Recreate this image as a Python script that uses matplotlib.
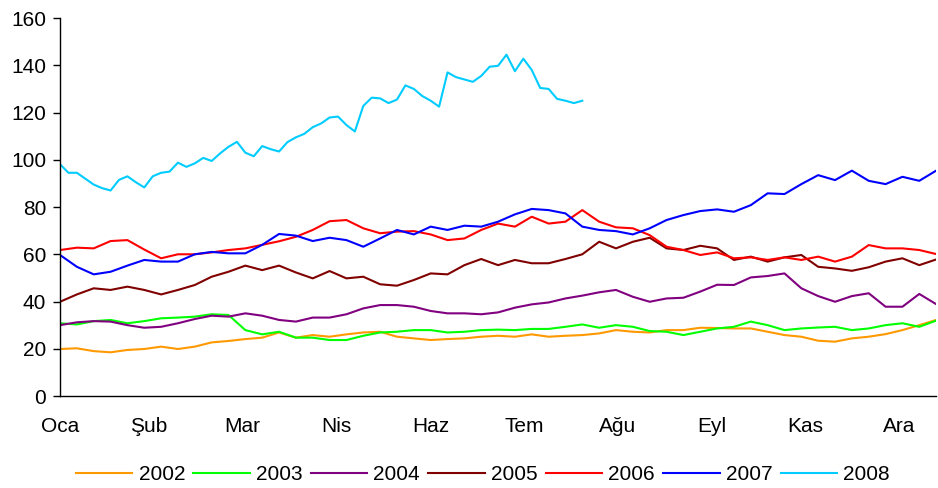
import matplotlib
matplotlib.use("Agg")
import matplotlib.pyplot as plt
import numpy as np

plt.rcParams['font.family'] = ['Liberation Sans', 'DejaVu Sans']

# weekly values (week 0 .. 52), 2008 half-weekly up to week 31
weeks = np.arange(53)
weeks_2008 = np.arange(63) * 0.5

y2002 = [19.9, 20.2, 19.0, 18.5, 19.5, 19.9, 20.9, 19.9, 20.9, 22.7, 23.3, 24.1, 24.7, 26.9,
         24.7, 25.8, 25.1, 26.1, 26.9, 27.2, 25.1, 24.4, 23.7, 24.1, 24.4, 25.1, 25.5,
         25.1, 26.1, 25.1, 25.5, 25.8, 26.5, 27.9, 27.2, 26.9, 27.9, 27.9, 28.9, 28.8,
         28.6, 28.6, 27.2, 25.8, 25.1, 23.4, 23.0, 24.4, 25.1, 26.2, 27.9, 30.0, 32.2]
y2003 = [30.8, 30.3, 31.7, 32.2, 30.8, 31.7, 32.9, 33.2, 33.6, 34.6, 34.3, 27.9, 26.1, 27.2,
         24.7, 24.7, 23.7, 23.7, 25.5, 26.9, 27.2, 27.9, 27.9, 26.9, 27.2, 27.9, 28.1,
         27.9, 28.4, 28.4, 29.3, 30.3, 28.9, 30.0, 29.3, 27.5, 27.2, 25.8, 27.2, 28.6,
         29.3, 31.5, 30.0, 27.9, 28.6, 29.0, 29.3, 27.9, 28.6, 30.0, 30.8, 29.3, 31.9]
y2004 = [30.0, 31.2, 31.7, 31.5, 30.0, 28.9, 29.3, 30.8, 32.6, 34.0, 33.6, 35.0, 34.0, 32.2,
         31.5, 33.2, 33.2, 34.6, 37.1, 38.5, 38.5, 37.8, 36.0, 35.0, 35.0, 34.6, 35.4,
         37.4, 38.8, 39.6, 41.3, 42.5, 43.9, 44.9, 42.0, 39.9, 41.3, 41.6, 44.2, 47.1,
         47.0, 50.2, 50.8, 51.9, 45.6, 42.3, 39.9, 42.3, 43.5, 37.8, 37.8, 43.2, 38.9]
y2005 = [39.9, 43.0, 45.6, 44.9, 46.3, 44.9, 43.0, 44.9, 47.0, 50.5, 52.6, 55.2, 53.3, 55.2,
         52.3, 49.8, 52.9, 49.8, 50.5, 47.3, 46.7, 49.1, 51.9, 51.5, 55.4, 58.0, 55.4,
         57.6, 56.2, 56.2, 58.0, 60.0, 65.3, 62.5, 65.3, 67.0, 62.5, 61.8, 63.6, 62.5,
         57.6, 59.0, 56.9, 58.7, 59.7, 54.7, 54.0, 53.0, 54.5, 56.9, 58.3, 55.4, 57.8]
y2006 = [61.8, 62.8, 62.5, 65.6, 66.0, 62.0, 58.3, 60.0, 60.0, 60.8, 61.8, 62.5, 64.0, 65.5,
         67.4, 70.3, 74.0, 74.5, 71.0, 68.9, 69.6, 69.8, 68.4, 66.0, 66.7, 70.3, 73.0,
         71.7, 75.9, 73.0, 73.8, 78.7, 73.8, 71.4, 71.0, 68.1, 63.2, 61.8, 59.7, 60.8,
         58.3, 58.7, 57.6, 58.7, 57.6, 59.0, 56.9, 59.0, 63.9, 62.5, 62.5, 61.8, 60.1]
y2007 = [59.7, 54.7, 51.5, 52.6, 55.2, 57.6, 56.9, 56.9, 60.0, 61.0, 60.4, 60.4, 64.0, 68.6,
         67.9, 65.6, 67.0, 66.0, 63.2, 66.7, 70.3, 68.4, 71.7, 70.3, 72.1, 71.7, 73.8,
         76.9, 79.2, 78.7, 77.3, 71.7, 70.3, 69.8, 68.4, 71.0, 74.5, 76.6, 78.3, 79.0,
         78.0, 80.8, 85.8, 85.5, 89.7, 93.5, 91.4, 95.4, 91.1, 89.7, 92.8, 91.1, 95.4]
y2008 = [98.1, 94.5, 94.5, 92.0, 89.5, 88.0, 87.0, 91.5, 93.0, 90.5, 88.3, 93.0, 94.5,
         95.0, 98.8, 97.0, 98.5, 100.8, 99.5, 102.7, 105.5, 107.6, 103.0, 101.5, 105.8,
         104.5, 103.5, 107.5, 109.5, 111.0, 113.8, 115.4, 117.9, 118.3, 114.7, 112.0,
         122.8, 126.3, 126.0, 124.0, 125.5, 131.5, 130.0, 127.0, 125.0, 122.5, 137.0,
         135.0, 134.0, 133.0, 135.5, 139.4, 139.8, 144.5, 137.5, 142.8, 138.0, 130.4,
         130.0, 125.8, 125.0, 124.0, 125.0]

month_labels = ['Oca', 'Şub', 'Mar', 'Nis', 'Haz', 'Tem', 'Ağu', 'Eyl', 'Kas', 'Ara']

series = [
    ('2002', weeks, y2002, '#FF9900'),
    ('2003', weeks, y2003, '#00FF00'),
    ('2004', weeks, y2004, '#800080'),
    ('2005', weeks, y2005, '#800000'),
    ('2006', weeks, y2006, '#FF0000'),
    ('2007', weeks, y2007, '#0000FF'),
    ('2008', weeks_2008, y2008, '#00CCFF'),
]

fig = plt.figure(figsize=(9.38, 4.88), dpi=100)
ax = fig.add_axes([0.064, 0.1885, 0.934, 0.7745])

for name, xs, ys, col in series:
    ax.plot(xs, ys, color=col, lw=1.5, label=name)

ax.set_xlim(0, 52)
ax.set_ylim(0, 160)
ax.set_yticks(np.arange(0, 161, 20))

tick_pos = np.clip(np.arange(len(month_labels)) * 5.57 - 0.3, 0, None)
ax.set_xticks(tick_pos)
ax.set_xticklabels(month_labels)

for s in ['top', 'right']:
    ax.spines[s].set_visible(False)
ax.spines['left'].set_linewidth(1)
ax.spines['bottom'].set_linewidth(1)
ax.tick_params(axis='x', length=0, pad=15, labelsize=15)
ax.tick_params(axis='y', length=5, width=1, pad=5, labelsize=15)

fig.legend(loc='center', bbox_to_anchor=(483 / 938, 1 - 475 / 488), ncol=7,
           frameon=False, fontsize=15, handlelength=2.7, handletextpad=0.3,
           columnspacing=0.4)

fig.savefig('out.png', dpi=100)
